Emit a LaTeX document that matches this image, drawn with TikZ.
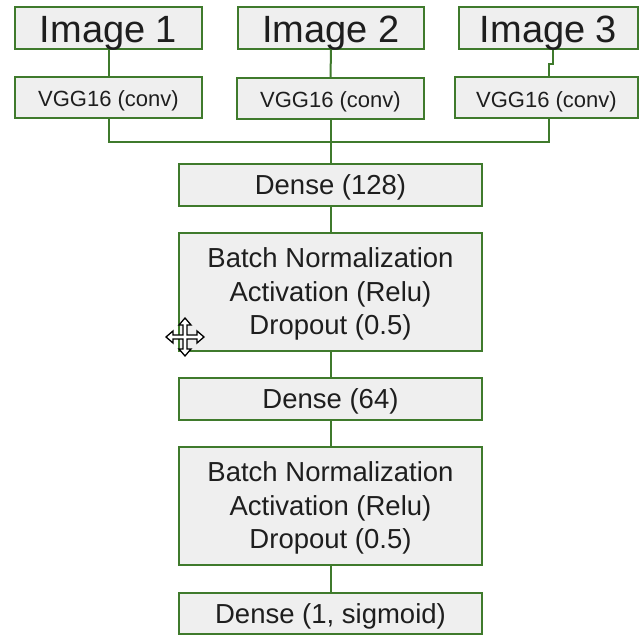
\documentclass[tikz,border=0pt]{standalone}
\usepackage{fontspec}
\setmainfont{Liberation Sans}
\usepackage{tikz}
\usetikzlibrary{calc}
\definecolor{boxline}{HTML}{3F7A2C}
\definecolor{boxfill}{HTML}{EFEFEF}
\definecolor{ink}{HTML}{1E1E1E}

\begin{document}
\begin{tikzpicture}[x=1pt,y=-1pt,
  imgbox/.style={draw=boxline,line width=2pt,fill=boxfill,text=ink,inner sep=0pt,
              minimum height=42pt,font=\fontsize{38}{40}\selectfont,
              text height=30pt,text depth=0pt},
  convbox/.style={draw=boxline,line width=2pt,fill=boxfill,text=ink,inner sep=0pt,
              minimum height=41pt,font=\fontsize{22}{26}\selectfont,
              text height=19pt,text depth=0pt},
  layer/.style={draw=boxline,line width=2pt,fill=boxfill,text=ink,inner sep=0pt,
              minimum width=303pt,minimum height=42pt,font=\fontsize{27.5}{33.5}\selectfont,
              text height=20pt,text depth=0pt},
  block/.style={layer,minimum height=118pt,align=center,text height=86pt},
  link/.style={draw=boxline,line width=2pt}]
\useasboundingbox (0,0) rectangle (641,636);
% inputs and the three VGG16 branches
\node[imgbox,minimum width=187pt] (img1) at (108.5,28) {Image 1};
\node[imgbox,minimum width=186pt] (img2) at (331,28) {Image 2};
\node[imgbox,minimum width=179pt] (img3) at (548.5,28) {Image 3};
\node[convbox,minimum width=187pt] (vgg1) at (108.5,97.5) {VGG16 (conv)};
\node[convbox,minimum width=187pt] (vgg2) at (330.5,98.5) {VGG16 (conv)};
\node[convbox,minimum width=183pt] (vgg3) at (546.5,98) {VGG16 (conv)};
% dense head
\node[layer] (d128) at (330.5,185) {Dense (128)};
\node[block] (bn1) at (330.5,292) {Batch Normalization\\Activation (Relu)\\Dropout (0.5)};
\node[layer] (d64) at (330.5,399) {Dense (64)};
\node[block] (bn2) at (330.5,506) {Batch Normalization\\Activation (Relu)\\Dropout (0.5)};
\node[layer,minimum height=41pt] (d1) at (330.5,613.5) {Dense (1, sigmoid)};

\path[link] (img1.south) -- (vgg1.north);
\path[link] (img2.south) -- (vgg2.north);
\path[link] ([xshift=4.5pt]img3.south) -- ++(0,14) -| ([xshift=2.5pt]vgg3.north);
\path[link] (vgg1.south) -- ++(0,23) -| ([xshift=2.5pt]vgg3.south);
\path[link] (vgg2.south) -- (d128.north);
\path[link] (d128.south) -- (bn1.north);
\path[link] (bn1.south) -- (d64.north);
\path[link] (d64.south) -- (bn2.north);
\path[link] (bn2.south) -- (d1.north);

% move cursor
\begin{scope}[shift={(185,337)}]
\draw[fill=white,line width=1.3pt,line join=miter]
  (0,-19) -- (6,-12) -- (2,-12) -- (2,-2) -- (12,-2) -- (12,-6) -- (19,0)
  -- (12,6) -- (12,2) -- (2,2) -- (2,12) -- (6,12) -- (0,19) -- (-6,12)
  -- (-2,12) -- (-2,2) -- (-12,2) -- (-12,6) -- (-19,0) -- (-12,-6)
  -- (-12,-2) -- (-2,-2) -- (-2,-12) -- (-6,-12) -- cycle;
\end{scope}
\end{tikzpicture}
\end{document}
